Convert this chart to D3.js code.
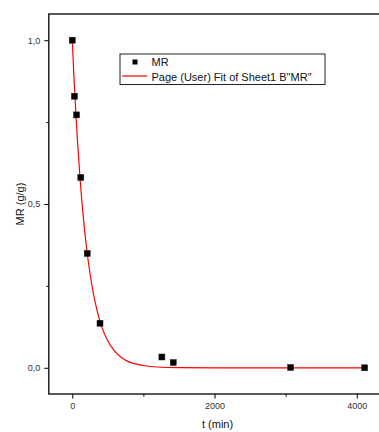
<!DOCTYPE html>
<html><head><meta charset="utf-8">
<script src="https://cdn.jsdelivr.net/npm/d3@7"></script>
<style>body{margin:0;background:#fff;overflow:hidden}svg{display:block}text{font-family:"Liberation Sans",Arial,sans-serif}</style>
</head><body><div id="chart"></div>
<script>
// Measured data (t in min, MR in g/g)
const timeValues = [0, 30, 60, 120, 210, 390, 1260, 1420, 3070, 4110];
const mrValues   = [1.0, 0.829, 0.772, 0.581, 0.349, 0.136, 0.033, 0.016, 0.001, 0.0];
// Fitted curve
const fitT  = [0, 25, 50, 75, 100, 150, 200, 250, 300, 350, 400, 450, 500, 600, 700, 800, 900, 1000, 1200, 1500, 2000, 3000, 4110];
const fitMR = [1.0, 0.882, 0.779, 0.687, 0.607, 0.472, 0.368, 0.287, 0.223, 0.174, 0.135, 0.105, 0.082, 0.050, 0.030, 0.018, 0.011, 0.007, 0.0025, 0.0006, 0.0, 0.0, 0.0];
const xMajorTicks = [0, 2000, 4000];
const xMinorTicks = [1000, 3000];
const yMajorTicks = [0, 0.5, 1.0];
const yMinorTicks = [0.25, 0.75];
const legendLabels = ["MR", "Page (User) Fit of Sheet1 B\"MR\""];

const W = 379, H = 432;
const svg = d3.select("#chart").append("svg").attr("width", W).attr("height", H);
const x = d3.scaleLinear().domain([-330, 4800]).range([48.8, 413.7]);
const y = d3.scaleLinear().domain([-0.08, 1.08]).range([394, 14]);
const fmt = v => d3.format(".1f")(v).replace(".", ",");

// clip
svg.append("clipPath").attr("id","clip").append("rect")
  .attr("x", x.range()[0]).attr("y", y.range()[1])
  .attr("width", x.range()[1]-x.range()[0]).attr("height", y.range()[0]-y.range()[1]);

// fit curve
const line = d3.line().x((d,i)=>x(fitT[i])).y((d,i)=>y(fitMR[i])).curve(d3.curveMonotoneX);
svg.append("path").datum(fitT).attr("d", line).attr("fill","none")
  .attr("stroke","#ff0000").attr("stroke-width",1.2).attr("clip-path","url(#clip)");

// points
const s = 6;
svg.selectAll("rect.pt").data(timeValues).join("rect").attr("class","pt")
  .attr("x",(d)=>x(d)-s/2).attr("y",(d,i)=>y(mrValues[i])-s/2)
  .attr("width",s).attr("height",s).attr("fill","#000").attr("stroke","#222").attr("stroke-width",0.5);

// axes
svg.append("g").attr("transform",`translate(0,${y.range()[0]})`)
  .call(d3.axisBottom(x).tickValues(xMajorTicks).tickSize(4.5).tickPadding(4).tickFormat(d3.format("d")));
svg.append("g").attr("transform",`translate(0,${y.range()[0]})`)
  .call(d3.axisBottom(x).tickValues(xMinorTicks).tickSize(2.7).tickFormat(""));
svg.append("g").attr("transform",`translate(${x.range()[0]},0)`)
  .call(d3.axisLeft(y).tickValues(yMajorTicks).tickSize(4.5).tickPadding(4).tickFormat(fmt));
svg.append("g").attr("transform",`translate(${x.range()[0]},0)`)
  .call(d3.axisLeft(y).tickValues(yMinorTicks).tickSize(2.5).tickFormat(""));
svg.selectAll(".domain").remove();
svg.selectAll(".tick line").attr("stroke","#000").attr("stroke-width",1);
svg.selectAll(".tick text").attr("font-size",9).attr("fill","#333").attr("font-family","'Liberation Sans',Arial,sans-serif");

// frame
svg.append("rect").attr("x",x.range()[0]).attr("y",y.range()[1])
  .attr("width",x.range()[1]-x.range()[0]).attr("height",y.range()[0]-y.range()[1])
  .attr("fill","none").attr("stroke","#000").attr("stroke-width",1.3);

// axis titles
svg.append("text").attr("x",(x(0)+x(4000))/2 + 3).attr("y",427.5).attr("text-anchor","middle")
  .attr("font-size",11).attr("fill","#111").text("t (min)");
svg.append("text").attr("transform",`translate(23.5,${(y(0)+y(1))/2}) rotate(-90)`)
  .attr("text-anchor","middle").attr("font-size",11).attr("fill","#111").text("MR (g/g)");

// legend
const lg = svg.append("g");
lg.append("rect").attr("x",120).attr("y",54).attr("width",205).attr("height",30.5)
  .attr("fill","#fff").attr("stroke","#222").attr("stroke-width",1);
lg.append("rect").attr("x",135-2.5).attr("y",62-2.5).attr("width",5).attr("height",5).attr("fill","#000");
lg.append("line").attr("x1",122).attr("x2",147).attr("y1",76).attr("y2",76).attr("stroke","#ff0000").attr("stroke-width",1.2);
lg.selectAll("text.lg").data(legendLabels).join("text").attr("class","lg")
  .attr("x",151.5).attr("y",(d,i)=>65.5+i*15).attr("font-size",11).attr("fill","#111").text(d=>d);
</script></body></html>
